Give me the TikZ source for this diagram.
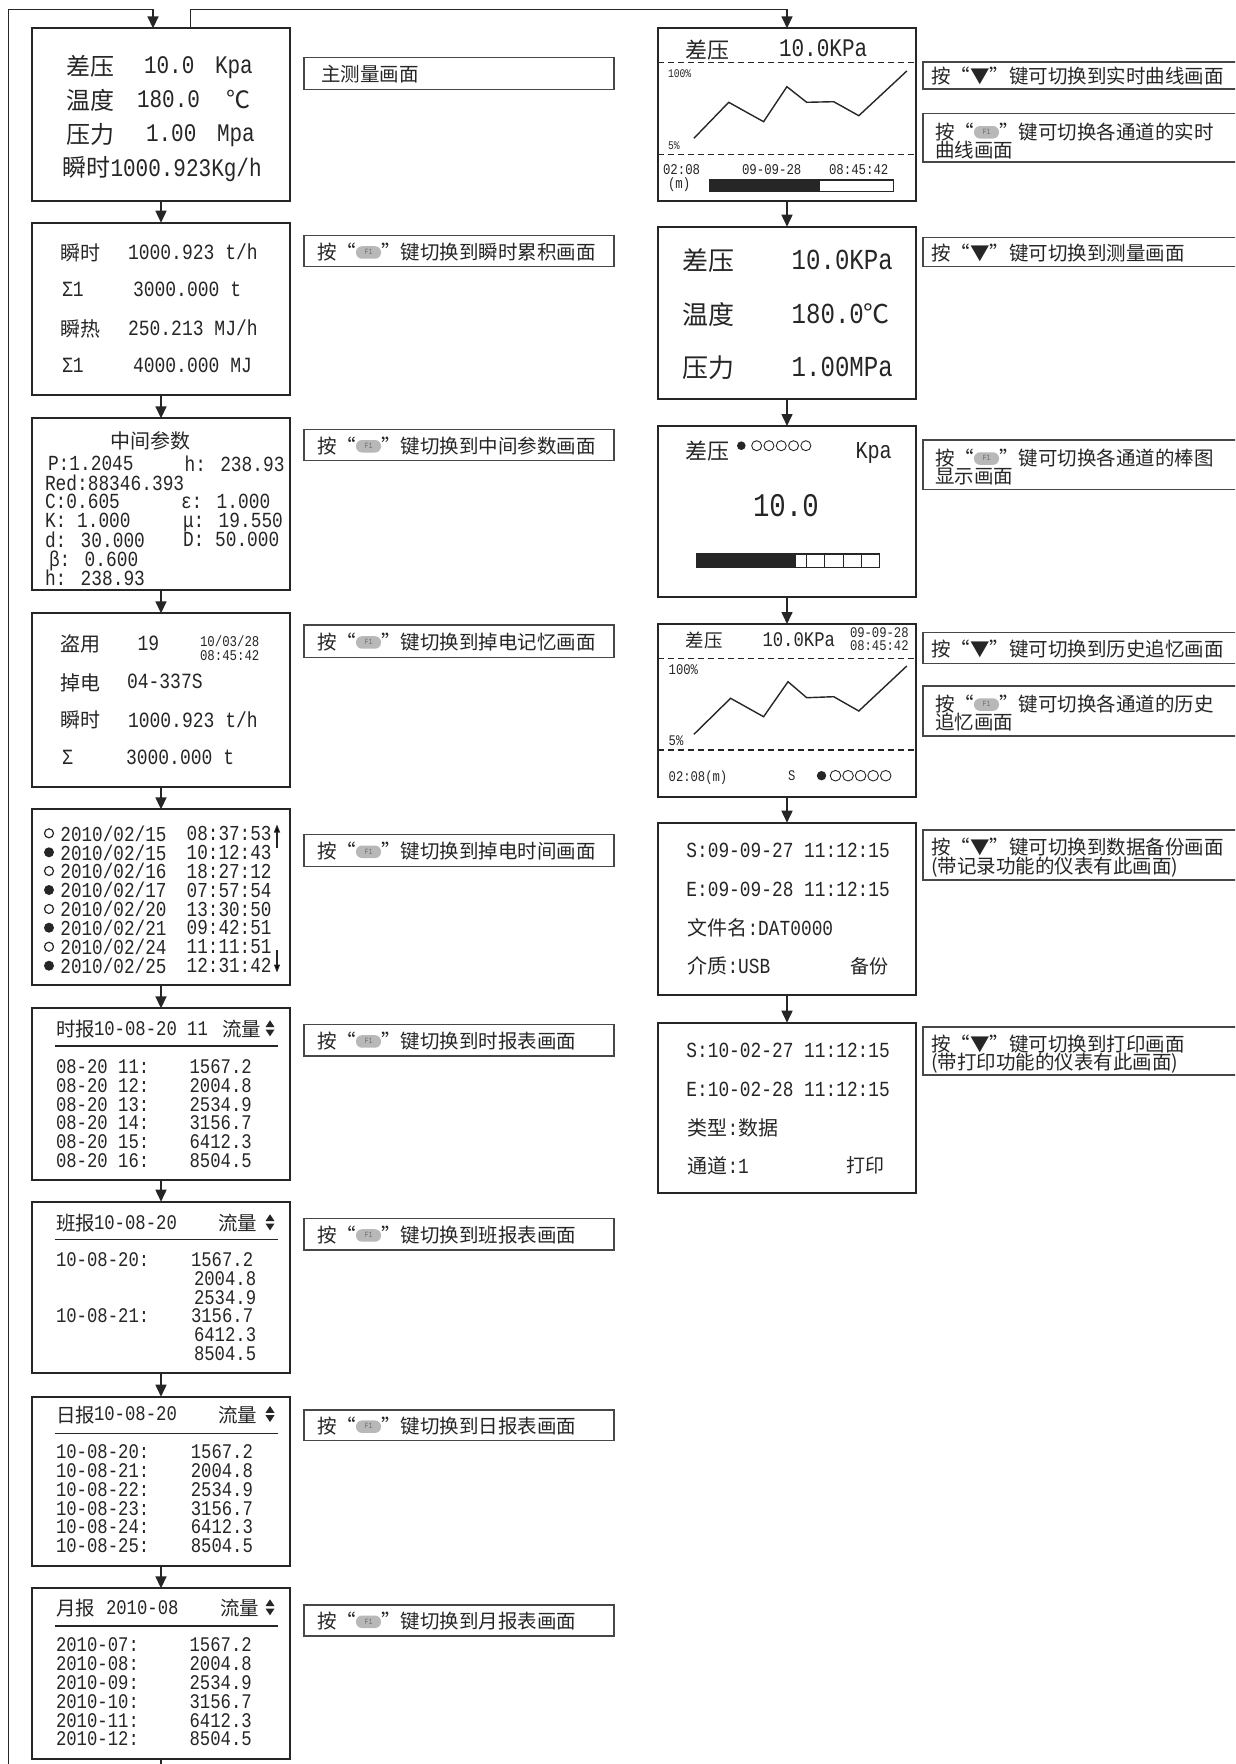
\documentclass[tikz,border=0pt]{standalone}
\usepackage{fontspec}
\setmainfont{Noto Sans CJK SC}
\newfontfamily\mono[FakeStretch=0.83]{Liberation Mono}
\usetikzlibrary{arrows.meta}
\definecolor{ink}{HTML}{262626}
\definecolor{keygray}{HTML}{B8B8B8}
\definecolor{keytext}{HTML}{6E6E6E}
\newcommand\fz[1]{\fontsize{#1}{#1}\selectfont}
\newcommand\keyFI{\tikz[baseline=-7pt]\node[fill=keygray,draw=none,rounded corners=6pt,inner sep=0pt,outer sep=0pt,anchor=center,minimum width=25pt,minimum height=12.5pt,text height=4.5pt,text depth=0pt,font=\mono\fz{8},text=keytext]{F1};}
\newcommand\updn[2]{\fill[ink] ({#1-4.5},{#2-1.2}) -- ({#1+4.5},{#2-1.2}) -- (#1,{#2-8}) -- cycle;
  \fill[ink] ({#1-4.5},{#2+1.2}) -- ({#1+4.5},{#2+1.2}) -- (#1,{#2+8}) -- cycle;}
\begin{document}
\begin{tikzpicture}[x=1pt,y=-1pt,
  scr/.style={draw=ink, line width=1.8pt, inner sep=0pt, outer sep=0pt, anchor=north west, minimum width=258pt},
  lab/.style={draw=ink!85, line width=1.4pt, inner sep=0pt, outer sep=0pt, anchor=north west},
  tx/.style={anchor=west, inner sep=0pt, outer sep=0pt, text depth=0pt, text=ink},
  cj/.style={tx, font=\fz{#1}},
  mo/.style={tx, font=\mono\fz{#1}},
  arr/.style={draw=ink, line width=1.6pt, -{Triangle[width=11pt,length=12pt]}},
  sarr/.style={draw=ink, line width=1.2pt, -{Triangle[width=6pt,length=8pt]}},
  dashln/.style={draw=ink, line width=1.4pt, dash pattern=on 6pt off 4pt},
  thin/.style={draw=ink, line width=1.3pt}]
\useasboundingbox (0,0) rectangle (1235,1764);
\fill[white] (0,0) rectangle (1235,1764);
\clip (0,0) rectangle (1235,1764);

% ---------------- left column screens ----------------
\node[scr, minimum height=172.7pt] (L1) at (32,28.3) {};
\node[scr, minimum height=172.3pt] (L2) at (32,222.7) {};
\node[scr, minimum height=171.7pt] (L3) at (32,418.3) {};
\node[scr, minimum height=173.4pt] (L4) at (32,613.3) {};
\node[scr, minimum height=175.7pt] (L5) at (32,809.3) {};
\node[scr, minimum height=171.7pt] (L6) at (32,1008.3) {};
\node[scr, minimum height=171pt] (L7) at (32,1201.7) {};
\node[scr, minimum height=169.3pt] (L8) at (32,1396.7) {};
\node[scr, minimum height=171pt] (L9) at (32,1588.3) {};

% ---------------- right column screens ----------------
\node[scr, minimum height=172.7pt] (R1) at (658,28.3) {};
\node[scr, minimum height=172.3pt] (R2) at (658,226.7) {};
\node[scr, minimum height=171pt] (R3) at (658,426) {};
\node[scr, minimum height=172.7pt] (R4) at (658,624) {};
\node[scr, minimum height=172.3pt] (R5) at (658,822.7) {};
\node[scr, minimum height=170.3pt] (R6) at (658,1022.7) {};

% ---------------- connectors ----------------
\coordinate (tl) at (8.3,9.3);
\coordinate (bl) at (8.3,1790);
\draw[arr] (L9.south) -- (L9.south |- bl) -- (bl) -- (tl) -- ([xshift=-8pt]L1.north |- tl) -- ([xshift=-8pt]L1.north);
\draw[arr] ([xshift=29.4pt]L1.north) -- ([xshift=29.4pt]L1.north |- tl) -- (R1.north |- tl) -- (R1.north);
\foreach \a/\b in {L1/L2,L2/L3,L3/L4,L4/L5,L5/L6,L6/L7,L7/L8,L8/L9,R1/R2,R2/R3,R3/R4,R4/R5,R5/R6}
  \draw[arr] (\a.south) -- (\a.south |- \b.north);

% ---------------- left labels ----------------
\foreach \n/\y/\h in {LL1/57.7/31.6,LL2/235.7/31,LL3/429.3/31.4,LL4/625/32.3,LL5/834.3/32.4,LL6/1024.3/31.7,LL7/1218.3/31.7,LL8/1410/30.7,LL9/1605/31}
  \node[lab, minimum width=310pt, minimum height=\h pt] (\n) at (304,\y) {};
\node[cj=19.5] (tl1) at (321,73.5) {主测量画面};
\node[cj=19.5] (tl2) at (317,251.2) {按“\keyFI”键切换到瞬时累积画面};
\node[cj=19.5] (tl3) at (317,445) {按“\keyFI”键切换到中间参数画面};
\node[cj=19.5] (tl4) at (317,641.2) {按“\keyFI”键切换到掉电记忆画面};
\node[cj=19.5] (tl5) at (317,850.5) {按“\keyFI”键切换到掉电时间画面};
\node[cj=19.5] (tl6) at (317,1040.2) {按“\keyFI”键切换到时报表画面};
\node[cj=19.5] (tl7) at (317,1234.2) {按“\keyFI”键切换到班报表画面};
\node[cj=19.5] (tl8) at (317,1425.4) {按“\keyFI”键切换到日报表画面};
\node[cj=19.5] (tl9) at (317,1620.5) {按“\keyFI”键切换到月报表画面};

% ---------------- right labels ----------------
\foreach \n/\y/\h in {RA1/62/27,RB1/113.3/48.7,RA2/237.7/29,RB3/440/49.3,RA4/632.3/31,RB4/686/50,RA5/830/50,RA6/1027/48}
  \node[lab, minimum width=330pt, minimum height=\h pt] (\n) at (923,\y) {};
\node[cj=19.5] (tr1) at (931,75.5) {按“▼”键可切换到实时曲线画面};
\node[cj=19.5] (tr2) at (935,131) {按“\keyFI”键可切换各通道的实时};
\node[cj=19.5] (tr3) at (935,149) {曲线画面};
\node[cj=19.5] (tr4) at (931,252) {按“▼”键可切换到测量画面};
\node[cj=19.5] (tr5) at (935,457.3) {按“\keyFI”键可切换各通道的棒图};
\node[cj=19.5] (tr6) at (935,476) {显示画面};
\node[cj=19.5] (tr7) at (931,648) {按“▼”键可切换到历史追忆画面};
\node[cj=19.5] (tr8) at (935,703.3) {按“\keyFI”键可切换各通道的历史};
\node[cj=19.5] (tr9) at (935,721) {追忆画面};
\node[cj=19.5] (tr10) at (931,846.7) {按“▼”键可切换到数据备份画面};
\node[cj=19.5] (tr11) at (931,865.7) {(带记录功能的仪表有此画面)};
\node[cj=19.5] (tr12) at (931,1043) {按“▼”键可切换到打印画面};
\node[cj=19.5] (tr13) at (931,1061) {(带打印功能的仪表有此画面)};

% ---------------- L1 main measurement ----------------
\node[cj=24] (a1) at (66.7,65) {差压};
\node[mo=25.3] (a2) at (144,65) {10.0};
\node[mo=25.3] (a3) at (215,65) {Kpa};
\node[cj=24] (a4) at (66.7,99.3) {温度};
\node[mo=25.3] (a5) at (137,99.3) {180.0};
\node[cj=24] (a6) at (226,99.3) {℃};
\node[cj=24] (a7) at (66.7,133.3) {压力};
\node[mo=25.3] (a8) at (146,133.3) {1.00};
\node[mo=25.3] (a9) at (217,133.3) {Mpa};
\node[cj=24] (a10) at (62.5,166.7) {瞬时{\mono\fz{25.3}1000.923Kg/h}};

% ---------------- L2 ----------------
\node[cj=20] (b1) at (60,251.7) {瞬时};
\node[mo=21.7] (b2) at (128,251.7) {1000.923 t/h};
\node[mo=21.7] (b3) at (62,289.3) {Σ1};
\node[mo=21.7] (b4) at (133,289.3) {3000.000 t};
\node[cj=20] (b5) at (60,327.7) {瞬热};
\node[mo=21.7] (b6) at (128,327.7) {250.213  MJ/h};
\node[mo=21.7] (b7) at (62,365) {Σ1};
\node[mo=21.7] (b8) at (133,365) {4000.000 MJ};

% ---------------- L3 ----------------
\node[cj=20, anchor=center] (c0) at (150,440) {中间参数};
\node[mo=21.5] (c1) at (48,463.3) {P:1.2045};
\node[mo=21.5] (c2) at (184.6,463.3) {h: 238.93};
\node[mo=21.5] (c3) at (45,482.7) {Red:88346.393};
\node[mo=21.5] (c4) at (45,501.7) {C:0.605};
\node[mo=21.5] (c5) at (181,501.7) {ε: 1.000};
\node[mo=21.5] (c6) at (45,520.7) {K: 1.000};
\node[mo=21.5] (c7) at (183,520.7) {μ: 19.550};
\node[mo=21.5] (c8) at (45,539.3) {d: 30.000};
\node[mo=21.5] (c9) at (183,539.3) {D: 50.000};
\node[mo=21.5] (c10) at (49,558.3) {β: 0.600};
\node[mo=21.5] (c11) at (45,577.7) {h: 238.93};

% ---------------- L4 ----------------
\node[cj=20] (d1) at (60,643.3) {盗用};
\node[mo=21.7] (d2) at (137.5,643.3) {19};
\node[mo=14.9] (d3) at (200,641) {10/03/28};
\node[mo=14.9] (d4) at (200,656) {08:45:42};
\node[cj=20] (d5) at (60,681.7) {掉电};
\node[mo=21.7] (d6) at (127,681.7) {04-337S};
\node[cj=20] (d7) at (60,719.3) {瞬时};
\node[mo=21.7] (d8) at (128,719.3) {1000.923 t/h};
\node[mo=21.7] (d9) at (62,757.3) {Σ};
\node[mo=21.7] (d10) at (126,757.3) {3000.000 t};

% ---------------- L5 ----------------
\foreach \y/\dt/\tm [count=\i] in {833.3/2010\slash02\slash15/08:37:53, 852.3/2010\slash02\slash15/10:12:43,
  871.0/2010\slash02\slash16/18:27:12, 890.0/2010\slash02\slash17/07:57:54, 909.0/2010\slash02\slash20/13:30:50,
  927.7/2010\slash02\slash21/09:42:51, 946.7/2010\slash02\slash24/11:11:51, 965.7/2010\slash02\slash25/12:31:42}{
  \node[mo=21.3] (e\i) at (60.4,\y) {\dt};
  \node[mo=21.3] (f\i) at (186.7,\y) {\tm};
}
\foreach \y in {833.3,871.0,909.0,946.7} \draw[ink, line width=1.2pt] (49,\y) circle (4.5pt);
\foreach \y in {852.3,890.0,927.7,965.7} \fill[ink] (49,\y) circle (5pt);
\draw[sarr] (277,848.3) -- (277,824.5);
\draw[sarr] (277,950) -- (277,972.5);

% ---------------- L6 hourly ----------------
\node[cj=19.5] (g1) at (56,1028.3) {时报};
\node[mo=20.8] (g2) at (94,1028.3) {10-08-20 11};
\node[cj=19.5] (g3) at (222,1028.3) {流量};
\updn{270}{1028.3}
\draw[thin] (55.4,1046) -- (278.3,1046);
\foreach \y/\k/\v [count=\i] in {1066.7/11/1567.2,1085.5/12/2004.8,1104.2/13/2534.9,1123/14/3156.7,1141.7/15/6412.3,1160.5/16/8504.5}{
  \node[mo=20.8] (gk\i) at (56,\y) {08-20 \k:};
  \node[mo=20.8] (gv\i) at (189.6,\y) {\v};
}

% ---------------- L7 shift ----------------
\node[cj=19.5] (h1) at (56,1222.3) {班报};
\node[mo=20.8] (h2) at (94,1222.3) {10-08-20};
\node[cj=19.5] (h3) at (218,1222.3) {流量};
\updn{270}{1222.3}
\draw[thin] (55.4,1239.3) -- (278.3,1239.3);
\node[mo=20.8] (hk1) at (56,1260) {10-08-20:};
\node[mo=20.8] (hk2) at (56,1316) {10-08-21:};
\node[mo=20.8] (hv1) at (191,1260) {1567.2};
\node[mo=20.8] (hv2) at (194,1279) {2004.8};
\node[mo=20.8] (hv3) at (194,1297.7) {2534.9};
\node[mo=20.8] (hv4) at (191,1316) {3156.7};
\node[mo=20.8] (hv5) at (194,1335) {6412.3};
\node[mo=20.8] (hv6) at (194,1354) {8504.5};

% ---------------- L8 daily ----------------
\node[cj=19.5] (i1) at (56,1414) {日报};
\node[mo=20.8] (i2) at (94,1414) {10-08-20};
\node[cj=19.5] (i3) at (218,1414) {流量};
\updn{270}{1414}
\draw[thin] (55.4,1433.3) -- (278.3,1433.3);
\foreach \y/\k/\v [count=\i] in {1451.7/20/1567.2,1470.7/21/2004.8,1489.3/22/2534.9,1508.3/23/3156.7,1527/24/6412.3,1545.7/25/8504.5}{
  \node[mo=20.8] (ik\i) at (56,\y) {10-08-\k:};
  \node[mo=20.8] (iv\i) at (190.8,\y) {\v};
}

% ---------------- L9 monthly ----------------
\node[cj=19.5] (j1) at (56,1607.3) {月报};
\node[mo=20.8] (j2) at (106,1607.3) {2010-08};
\node[cj=19.5] (j3) at (220,1607.3) {流量};
\updn{270}{1607.3}
\draw[thin] (55.4,1626) -- (278.3,1626);
\foreach \y/\k/\v [count=\i] in {1645/07/1567.2,1663.7/08/2004.8,1682.7/09/2534.9,1701.3/10/3156.7,1720.3/11/6412.3,1739/12/8504.5}{
  \node[mo=20.8] (jk\i) at (56,\y) {2010-\k:};
  \node[mo=20.8] (jv\i) at (189.6,\y) {\v};
}

% ---------------- R1 realtime curve ----------------
\node[cj=22] (k1) at (685.6,49) {差压};
\node[mo=25.3] (k2) at (779,48) {10.0KPa};
\draw[dashln] (658,62.3) -- (916,62.3);
\node[mo=11.7] (k3) at (668,73.3) {100\%};
\draw[ink, line width=1.4pt] (693.9,138.3) -- (728.7,102.3) -- (763.6,121.7) -- (786.9,86.7) -- (806.7,102.3) -- (833.7,101.7) -- (858.8,115.7) -- (906.8,71);
\node[mo=11.7] (k4) at (668,145.7) {5\%};
\draw[dashln] (658,154.3) -- (916,154.3);
\node[mo=14.9] (k5) at (663,170) {02:08};
\node[mo=14.9] (k6) at (668,183.3) {(m)};
\node[mo=14.9] (k7) at (742,170) {09-09-28};
\node[mo=14.9] (k8) at (829,170) {08:45:42};
\fill[ink] (710,180) rectangle (819.5,191.7);
\draw[ink, line width=1.1pt] (710,180) rectangle (893.7,191.7);

% ---------------- R2 measurement ----------------
\node[cj=26] (m1) at (682,260) {差压};
\node[mo=29] (m2) at (791.7,260) {10.0KPa};
\node[cj=26] (m3) at (682,313.3) {温度};
\node[mo=29] (m4) at (791.7,313.3) {180.0{\rmfamily\fz{26}℃}};
\node[cj=26] (m5) at (682,366.7) {压力};
\node[mo=29] (m6) at (791.7,366.7) {1.00MPa};

% ---------------- R3 bar graph ----------------
\node[cj=22] (n1) at (685.6,450.7) {差压};
\fill[ink] (741.3,445.7) circle (4.3pt);
\foreach \x in {756.65,768.95,781.25,793.55,805.85} \draw[ink, line width=0.9pt] (\x,445.7) circle (5pt);
\node[mo=24.3] (n2) at (855.5,450) {Kpa};
\node[mo=33] (n3) at (753,505) {10.0};
\fill[ink] (696.9,554) rectangle (795.5,567.3);
\draw[ink, line width=1.1pt] (696.9,554) rectangle (879.5,567.3);
\foreach \x in {806.7,824.4,843.1,861.1} \draw[ink, line width=1.1pt] (\x,554) -- (\x,567.3);

% ---------------- R4 history curve ----------------
\node[cj=18.5] (o1) at (685.6,640) {差压};
\node[mo=20.8] (o2) at (762.5,640) {10.0KPa};
\node[mo=14.7] (o3) at (850,632.3) {09-09-28};
\node[mo=14.7] (o4) at (850,645.7) {08:45:42};
\draw[dashln] (658,658.3) -- (916,658.3);
\node[mo=14.7] (o5) at (668.7,669.3) {100\%};
\draw[ink, line width=1.4pt] (693.9,734.3) -- (730.6,698.3) -- (763.6,716.7) -- (788,681.7) -- (806.7,697.7) -- (833.7,696.7) -- (858.8,711) -- (906.8,666);
\node[mo=14.7] (o6) at (668.7,740.7) {5\%};
\draw[dashln] (658,750) -- (916,750);
\node[mo=14.7] (o7) at (668.7,775.7) {02:08(m)};
\node[mo=14.7] (o8) at (788,775.7) {S};
\fill[ink] (821.5,775.7) circle (4.7pt);
\foreach \x in {835.5,848.05,860.6,873.15,885.7} \draw[ink, line width=0.9pt] (\x,775.7) circle (5.3pt);

% ---------------- R5 backup ----------------
\node[mo=21.5] (p1) at (686.4,850.7) {S:09-09-27 11:12:15};
\node[mo=21.5] (p2) at (686.4,889) {E:09-09-28 11:12:15};
\node[cj=20] (p3) at (687.5,926.7) {文件名{\mono\fz{21.5}:DAT0000}};
\node[cj=20] (p4) at (687.5,965) {介质{\mono\fz{21.5}:USB}};
\node[cj=19] (p5) at (850.6,965) {备份};

% ---------------- R6 print ----------------
\node[mo=21.5] (q1) at (686.4,1050.7) {S:10-02-27 11:12:15};
\node[mo=21.5] (q2) at (686.4,1088.8) {E:10-02-28 11:12:15};
\node[cj=20] (q3) at (687.5,1126.9) {类型{\mono\fz{21.5}:}数据};
\node[cj=20] (q4) at (687.5,1165) {通道{\mono\fz{21.5}:1}};
\node[cj=19] (q5) at (846,1165) {打印};
\end{tikzpicture}
\end{document}
